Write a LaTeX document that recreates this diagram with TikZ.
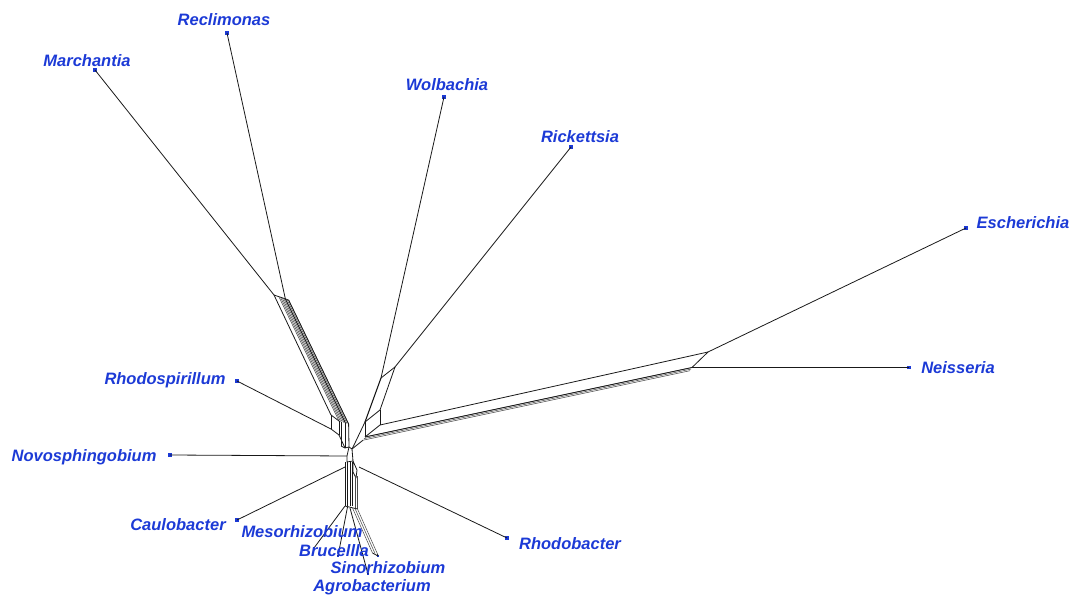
\documentclass[tikz,border=0pt]{standalone}
\usepackage{fontspec}
\usetikzlibrary{calc}
\setmainfont{Liberation Sans}
\definecolor{taxon}{RGB}{28,58,214}
\begin{document}
\begin{tikzpicture}[x=1pt,y=-1pt,
  edge/.style={line width=0.8pt, draw=black!90, line join=round},
  faint/.style={line width=0.55pt, draw=black!70},
  leafdot/.style={fill=taxon, draw=none, rectangle, inner sep=0pt, minimum size=3.6pt},
  taxlabel/.style={text=taxon, anchor=base, inner sep=0pt,
    font=\fontsize{16.5}{18}\selectfont\bfseries\itshape}]
\useasboundingbox (0,0) rectangle (1077,599);

% ---- taxa (leaf dots) ----
\node[leafdot] (Rec) at (227,33) {};
\node[leafdot] (Mar) at (95,70) {};
\node[leafdot] (Wol) at (444,97) {};
\node[leafdot] (Ric) at (571,147) {};
\node[leafdot] (Esc) at (966,228) {};
\node[leafdot] (Nei) at (909,367.5) {};
\node[leafdot] (Rba) at (507,538) {};
\node[leafdot] (Rsp) at (237,381) {};
\node[leafdot] (Nov) at (170,455) {};
\node[leafdot] (Cau) at (237,520) {};
\node[leafdot, minimum size=2.5pt] (Mes) at (314,548) {};
\node[leafdot, minimum size=2.5pt] (Bru) at (338,556) {};
\node[leafdot, minimum size=2.5pt] (Sin) at (378,556) {};
\node[leafdot, minimum size=2.5pt] (Agr) at (368,574) {};

% ---- internal vertices ----
\coordinate (mj) at (274,295);
\coordinate (rj) at (285.4,299);
\coordinate (mtop) at (288.6,300);
\coordinate (mb1) at (331,415);
\coordinate (mb2) at (331,429);
\coordinate (mb3) at (339,421);
\coordinate (mb4) at (339,435);
\coordinate (mbr) at (348.6,424);

\coordinate (kj) at (395,367);
\coordinate (wj) at (381,378);
\coordinate (k2) at (380,410);
\coordinate (w2) at (365,422);
\coordinate (eu) at (380,425);
\coordinate (w3) at (365,437);

\coordinate (ej) at (708,352);
\coordinate (nj) at (692,367.5);

\coordinate (h1) at (341,446);
\coordinate (h2) at (345,448);
\coordinate (h3) at (349,447);
\coordinate (h4) at (354,445);
\coordinate (h5) at (352,449);
\coordinate (nv) at (347,456);
\coordinate (h6) at (353,461);
\coordinate (h7) at (347,462);
\coordinate (cj) at (345,467);
\coordinate (rbj) at (359,467);
\coordinate (d1) at (357,470);
\coordinate (d2) at (356,478);
\coordinate (d3) at (353,472);

% ---- Marchantia / Reclimonas band ----
\draw[edge] (Mar.center) -- (mj);
\draw[edge] (Rec.center) -- (rj);
\draw[edge] (mj) -- (mtop);
\draw[edge] (mj) -- (mb1);
\foreach \i in {0,...,6}
  \draw[faint] ({279+1.6*\i},{297+0.5*\i}) -- ++(60,124);
\draw[edge] (rj) -- ++(60,124);
\draw[edge] (mtop) -- (mbr);
\draw[edge] (mb1) -- (mb2);
\draw[edge] (mb1) -- (mb3);
\draw[edge] (mb3) -- (mb4);
\draw[edge] (mb2) -- (mb4);
\draw[edge] (Rsp.center) -- (mb2);
\draw[edge] (341,422) -- (h1);
\draw[edge] (345,423) -- (h2);
\draw[edge] (mbr) -- (h3);
\draw[edge] (mb4) -- (h2);
\draw[edge] (h1) -- (h2) -- (h3);

% ---- Wolbachia / Rickettsia box ----
\draw[edge] (Wol.center) -- (wj);
\draw[edge] (Ric.center) -- (kj);
\draw[edge] (wj) -- (kj);
\draw[edge, line width=1.1pt] (wj) -- (w2);
\draw[edge] (kj) -- (k2);
\draw[edge] (k2) -- (w2);
\draw[edge] (k2) -- (eu);
\draw[edge] (w2) -- (w3);
\draw[edge] (eu) -- (w3);
\draw[edge] (w2) -- (h4);

% ---- Escherichia / Neisseria band ----
\draw[edge] (Esc.center) -- (ej);
\draw[edge] (Nei.center) -- (nj);
\draw[edge] (ej) -- (nj);
\draw[edge] (ej) -- (eu);
\foreach \i in {0,1,2}
  \draw[faint] ($(nj)+({-1*\i},{1.6*\i})$) -- ($(w3)+({-1*\i},{1.6*\i})$);
\draw[edge] (nj) -- (w3);
\draw[edge] (363,440.2) -- (h5);
\draw[edge] (h4) -- (h5) -- (h3);

% ---- central cells ----
\draw[edge] (h3) -- (nv) -- (h7) -- (h6) -- (h5);
\draw[edge] (Nov.center) -- (nv);
\draw[edge] (h6) -- (d1) -- (d2) -- (d3) -- cycle;
\draw[edge] (Cau.center) -- (cj);
\draw[edge] (Rba.center) -- (rbj);

% ---- lower band ----
\foreach \x in {345,347.5,350,352.5}
  \draw[edge] (\x,462) -- (\x,506);
\foreach \x in {355,357.5}
  \draw[faint] (\x,476) -- (\x,509);
\draw[edge] (345,506) -- (357.5,509);
\draw[edge] (345,506) -- (Mes.center);
\draw[edge] (347.5,507) -- (Bru.center);
\draw[edge] (350,508) -- (Agr.center);
\foreach \i in {0,1,2}
  \draw[faint] ({352.5+2.5*\i},{508+0.5*\i}) -- ++(20,45);
\draw[edge] (372.5,553) -- (Sin.center);
\draw[edge] (377.5,554) -- (Sin.center);

% ---- labels ----
\node[taxlabel] (lRec) at (224,26) {Reclimonas};
\node[taxlabel] (lMar) at (87,67) {Marchantia};
\node[taxlabel] (lWol) at (447,91) {Wolbachia};
\node[taxlabel] (lRic) at (580,143) {Rickettsia};
\node[taxlabel] (lEsc) at (1023,229) {Escherichia};
\node[taxlabel] (lNei) at (958,373) {Neisseria};
\node[taxlabel] (lRba) at (570,549) {Rhodobacter};
\node[taxlabel] (lRsp) at (165,384) {Rhodospirillum};
\node[taxlabel] (lNov) at (84,461) {Novosphingobium};
\node[taxlabel] (lCau) at (178,530) {Caulobacter};
\node[taxlabel] (lMes) at (302,537) {Mesorhizobium};
\node[taxlabel] (lBru) at (334,556) {Brucellla};
\node[taxlabel] (lSin) at (388,573) {Sinorhizobium};
\node[taxlabel] (lAgr) at (372,591) {Agrobacterium};
\end{tikzpicture}
\end{document}
